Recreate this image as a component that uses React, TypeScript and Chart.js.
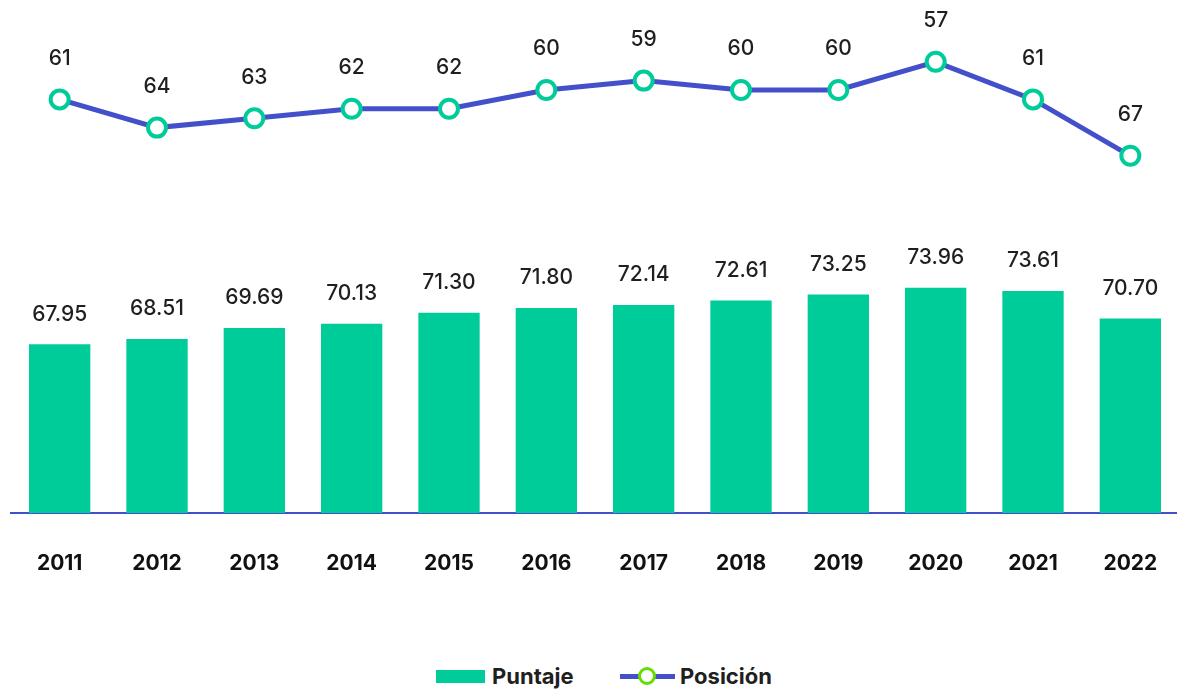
import React, { useEffect, useRef } from "react";
import { Chart, registerables } from "chart.js";

Chart.register(...registerables);

const years = ["2011", "2012", "2013", "2014", "2015", "2016", "2017", "2018", "2019", "2020", "2021", "2022"];
const puntaje = [67.95, 68.51, 69.69, 70.13, 71.3, 71.8, 72.14, 72.61, 73.25, 73.96, 73.61, 70.7];
const posicion = [61, 64, 63, 62, 62, 60, 59, 60, 60, 57, 61, 67];

const GREEN = "#00CC99";
const BLUE = "#4350CA";
const TEXT = "#1f1f1f";
const FONT = "Inter, 'Noto Sans', sans-serif";

const labelPlugin = {
  id: "valueLabels",
  afterDatasetsDraw(chart: any) {
    const ctx = chart.ctx;
    ctx.save();
    ctx.fillStyle = TEXT;
    ctx.textAlign = "center";
    ctx.textBaseline = "middle";
    ctx.font = `500 21px ${FONT}`;
    chart.data.datasets.forEach((ds: any, i: number) => {
      const meta = chart.getDatasetMeta(i);
      meta.data.forEach((el: any, j: number) => {
        const v = ds.data[j];
        if (ds.type === "bar") {
          ctx.fillText(v.toFixed(2), el.x, el.y - 30);
        } else {
          ctx.fillText(String(v), el.x, el.y - 41);
        }
      });
    });
    ctx.restore();
  },
};

export default function App() {
  const ref = useRef<HTMLCanvasElement | null>(null);
  useEffect(() => {
    if (!ref.current) return;
    const chart = new Chart(ref.current, {
      type: "bar",
      data: {
        labels: years,
        datasets: [
          {
            type: "line",
            label: "Posición",
            data: posicion,
            yAxisID: "y1",
            borderColor: BLUE,
            borderWidth: 5,
            pointRadius: 9,
            pointHoverRadius: 9,
            pointBorderWidth: 4,
            pointBorderColor: GREEN,
            pointBackgroundColor: "#ffffff",
            tension: 0,
            order: 0,
          } as any,
          {
            type: "bar",
            label: "Puntaje",
            data: puntaje,
            yAxisID: "y",
            backgroundColor: GREEN,
            categoryPercentage: 1,
            barPercentage: 0.63,
            order: 1,
          } as any,
        ],
      },
      options: {
        animation: false,
        responsive: true,
        maintainAspectRatio: false,
        layout: { padding: { top: 43, left: 10, right: 0, bottom: 0 } },
        plugins: {
          legend: { display: false },
          tooltip: { enabled: false },
        },
        scales: {
          x: {
            grid: { display: false, drawTicks: false },
            border: { display: true, color: BLUE, width: 2 },
            ticks: {
              color: "#111111",
              padding: 38,
              font: { family: FONT, size: 21, weight: "bold" as any },
            },
            afterFit(scale: any) {
              scale.paddingLeft = 0;
              scale.paddingRight = 0;
              scale.height = 107;
            },
          },
          y: {
            display: false,
            min: 50,
            max: 100,
          },
          y1: {
            display: false,
            reverse: true,
            min: 55,
            max: 105,
          },
        },
      },
      plugins: [labelPlugin],
    });
    return () => chart.destroy();
  }, []);

  const legendText: React.CSSProperties = {
    position: "absolute",
    top: 662,
    fontFamily: FONT,
    fontWeight: 700,
    fontSize: 22,
    color: TEXT,
    lineHeight: "28px",
  };

  return (
    <div style={{ position: "fixed", left: 0, top: 0, width: 1177, height: 690, overflow: "hidden", background: "#fff" }}>
      <div style={{ position: "absolute", left: -2, top: 0, width: 1194, height: 620 }}>
        <canvas ref={ref} />
      </div>
      <div style={{ position: "absolute", left: 436, top: 670, width: 49, height: 13, background: GREEN }} />
      <div style={{ ...legendText, left: 492 }}>Puntaje</div>
      <div style={{ position: "absolute", left: 620, top: 674, width: 55, height: 5, background: BLUE }} />
      <div
        style={{
          position: "absolute",
          left: 638,
          top: 667,
          width: 12,
          height: 12,
          borderRadius: "50%",
          border: "3.5px solid #66DD00",
          background: "#fff",
        }}
      />
      <div style={{ ...legendText, left: 680 }}>Posición</div>
    </div>
  );
}
